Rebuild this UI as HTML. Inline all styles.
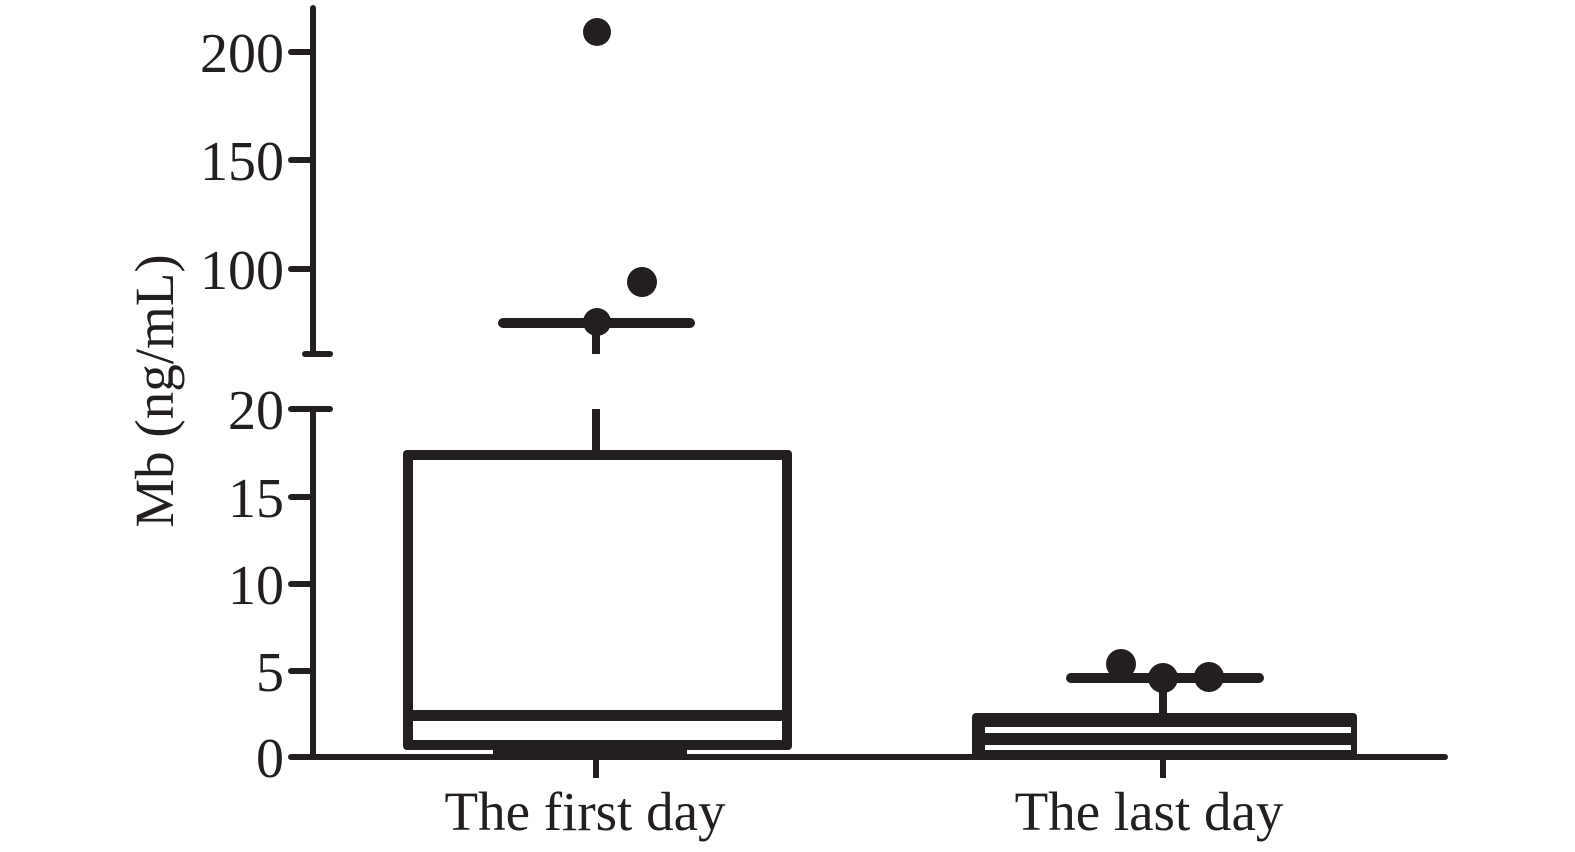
<!DOCTYPE html>
<html><head><style>body{margin:0;background:#fff}svg{display:block}</style></head><body>
<svg width="1575" height="852" viewBox="0 0 1575 852" xmlns="http://www.w3.org/2000/svg">
<g stroke="#231f20" stroke-width="6" fill="none" stroke-linecap="round">
<line x1="313" y1="8" x2="313" y2="354"/>
<line x1="313" y1="409" x2="313" y2="757"/>
<line x1="291" y1="52" x2="313" y2="52"/>
<line x1="291" y1="160" x2="313" y2="160"/>
<line x1="291" y1="269" x2="313" y2="269"/>
<line x1="305" y1="354" x2="330" y2="354"/>
<line x1="291" y1="409" x2="330" y2="409"/>
<line x1="291" y1="497" x2="313" y2="497"/>
<line x1="291" y1="584" x2="313" y2="584"/>
<line x1="291" y1="671" x2="313" y2="671"/>
<line x1="291" y1="757" x2="1445" y2="757"/>
<line x1="596" y1="757" x2="596" y2="778" stroke-linecap="butt"/>
<line x1="1163" y1="757" x2="1163" y2="778" stroke-linecap="butt"/>
</g>
<g fill="#231f20">
<rect x="403" y="450" width="389" height="300" rx="4"/>
<rect x="413" y="460" width="369" height="250" fill="#fff"/>
<rect x="413" y="721" width="369" height="19" fill="#fff"/>
<rect x="493" y="744" width="194" height="13"/>
<rect x="592" y="409" width="8" height="46"/>
<rect x="592" y="322" width="8" height="32"/>
<rect x="498" y="318" width="197" height="10" rx="5"/>
<circle cx="597" cy="322" r="14"/>
<circle cx="642" cy="282" r="15"/>
<circle cx="597" cy="32" r="14"/>
<rect x="972" y="713" width="385" height="44" rx="4"/>
<rect x="985" y="727" width="366" height="6" fill="#fff"/>
<rect x="985" y="745" width="366" height="5" fill="#fff"/>
<rect x="1159" y="680" width="8" height="35"/>
<rect x="1066" y="673" width="198" height="10" rx="5"/>
<circle cx="1121" cy="664" r="15"/>
<circle cx="1163" cy="678" r="15"/>
<circle cx="1209" cy="677" r="15"/>
</g>
<g font-family="Liberation Serif, serif" font-size="56" fill="#231f20" text-anchor="end">
<text x="284" y="72">200</text>
<text x="284" y="180">150</text>
<text x="284" y="289">100</text>
<text x="284" y="429">20</text>
<text x="284" y="517">15</text>
<text x="284" y="604">10</text>
<text x="284" y="691">5</text>
<text x="284" y="777">0</text>
</g>
<text transform="translate(173,391) rotate(-90)" font-family="Liberation Serif, serif" font-size="55" fill="#231f20" text-anchor="middle">Mb (ng/mL)</text>
<g font-family="Liberation Serif, serif" font-size="55" fill="#231f20" text-anchor="middle">
<text x="585" y="830">The first day</text>
<text x="1149" y="830">The last day</text>
</g>
</svg>
</body></html>
